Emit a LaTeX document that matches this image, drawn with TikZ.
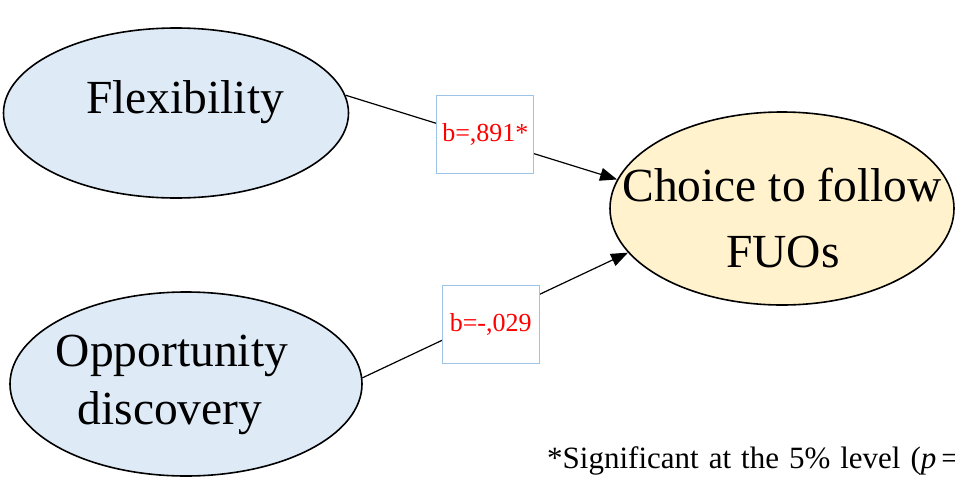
\documentclass[tikz,border=0pt]{standalone}
\usepackage{fontspec}
\setmainfont{Liberation Serif}
\usetikzlibrary{shapes.geometric,arrows.meta}
\definecolor{ebl}{HTML}{DEEBF7}
\definecolor{eyl}{HTML}{FFF2CC}
\definecolor{bbl}{HTML}{9DC3E6}
\begin{document}
\begin{tikzpicture}[x=1pt,y=-1pt,
  ell/.style={ellipse,draw=black,line width=1.6pt,inner sep=0pt},
  etext/.style={anchor=base,inner sep=0pt,font=\fontsize{47.5}{57}\selectfont},
  conn/.style={line width=1.2pt,-{Triangle[length=17pt,width=13pt]}},
  lbox/.style={draw=bbl,line width=1.2pt,fill=white,minimum width=97pt,minimum height=78pt,inner sep=0pt,text=red,font=\fontsize{26}{30}\selectfont}]
\useasboundingbox (0,0) rectangle (955,482);
\fill[white] (0,0) rectangle (955,482);
% ellipses
\node[ell,fill=ebl,minimum width=345pt,minimum height=170pt] (flex) at (176,113) {};
\node[ell,fill=ebl,minimum width=352pt,minimum height=184pt] (opp) at (186,384) {};
\node[ell,fill=eyl,minimum width=344pt,minimum height=193pt] (choice) at (782,208.5) {};
% texts
\node[etext] (flexT) at (185,113) {Flexibility};
\node[etext] (oppT1) at (172,366) {Opportunity};
\node[etext] (oppT2) at (170,424) {discovery};
\node[etext] (choT1) at (782,201) {Choice to follow};
\node[etext] (choT2) at (783,267) {FUOs};
% connectors with labels
\draw[conn] (flex.6) -- node[lbox,pos=0.515,yshift=4pt] (l1) {b=,891*} (choice.170);
\draw[conn] (opp.2.3) -- node[lbox,pos=0.483,yshift=-7pt] (l2) {b=-,029} (choice.196.6);
% footnote
\node[anchor=base west,inner sep=0pt,font=\fontsize{31}{36}\selectfont] (note) at (547,468)
  {{\spaceskip=10pt *Significant at the 5\% level (}\textit{p}\hspace{5pt}=};
\end{tikzpicture}
\end{document}
